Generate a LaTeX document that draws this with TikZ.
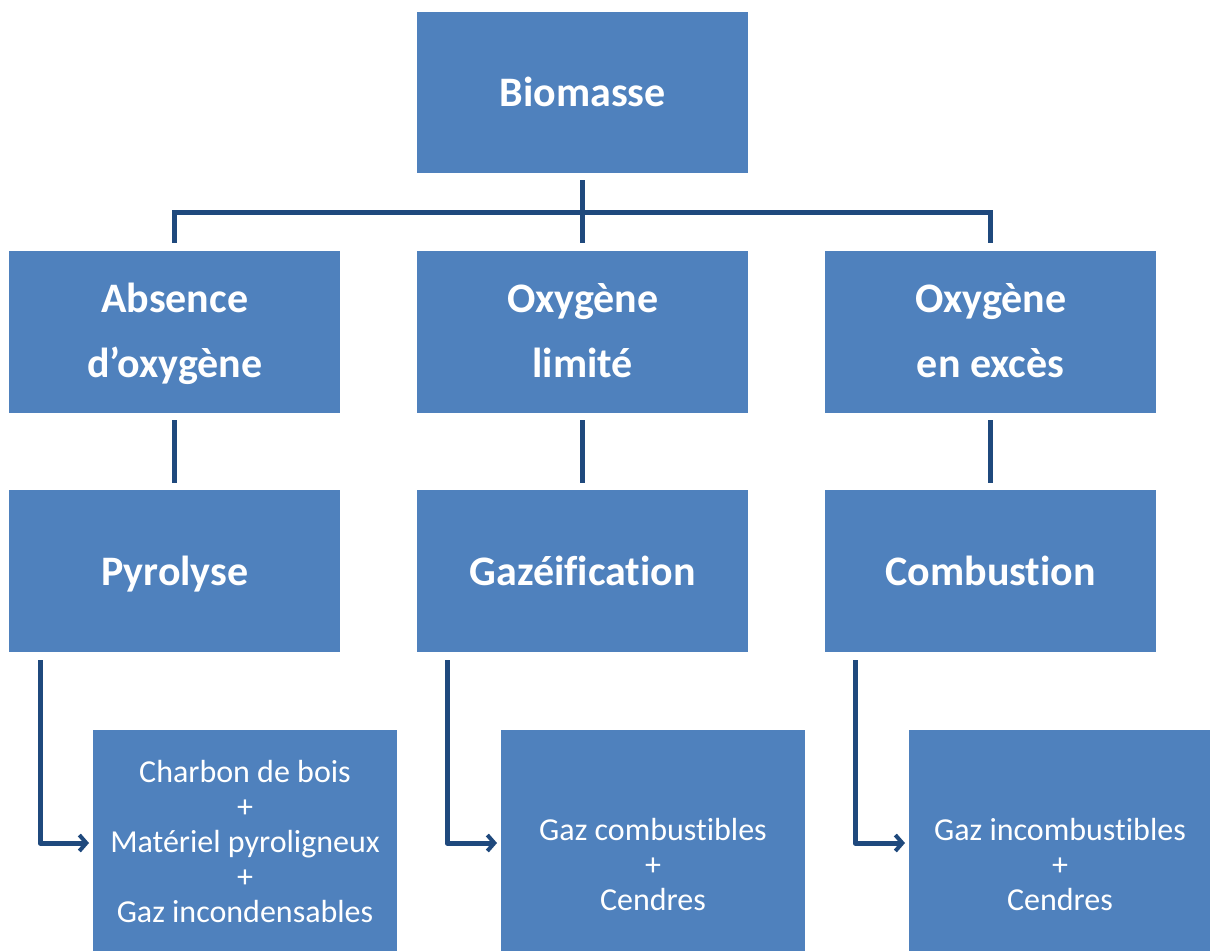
\documentclass[tikz,border=0pt]{standalone}
\usepackage{fontspec}
\setmainfont[Ligatures=NoCommon]{Carlito}
\usetikzlibrary{arrows.meta}
\definecolor{boxblue}{HTML}{4F81BD}
\definecolor{linkblue}{HTML}{1F497D}
\tikzset{
  bluebox/.style={fill=boxblue, draw=none, inner sep=0pt, anchor=north west},
  bigtxt/.style={text=white, font=\fontsize{42}{65}\selectfont\bfseries, align=center, inner sep=0pt},
  smalltxt/.style={text=white, font=\fontsize{32}{35}\selectfont, align=center, inner sep=0pt},
  link/.style={draw=linkblue, line width=5pt},
  arrowlink/.style={link, line join=round, -{Straight Barb[length=7pt,width=16pt,line width=4pt]}},
}
\begin{document}
\begin{tikzpicture}[x=1pt,y=-1pt]
\useasboundingbox (0,0) rectangle (1210,951);
% boxes
\node[bluebox, minimum width=331pt, minimum height=161pt] (bio) at (417,12) {};
\node[bluebox, minimum width=331pt, minimum height=162pt] (abs) at (9,251) {};
\node[bluebox, minimum width=331pt, minimum height=162pt] (lim) at (417,251) {};
\node[bluebox, minimum width=331pt, minimum height=162pt] (exc) at (825,251) {};
\node[bluebox, minimum width=331pt, minimum height=162pt] (pyr) at (9,490) {};
\node[bluebox, minimum width=331pt, minimum height=162pt] (gaz) at (417,490) {};
\node[bluebox, minimum width=331pt, minimum height=162pt] (com) at (825,490) {};
\node[bluebox, minimum width=304pt, minimum height=221pt] (r1) at (93,730) {};
\node[bluebox, minimum width=304pt, minimum height=221pt] (r2) at (501,730) {};
\node[bluebox, minimum width=301pt, minimum height=221pt] (r3) at (909,730) {};
% texts
\node[bigtxt] (tbio) at ([yshift=1pt]bio.center) {Biomasse};
\node[bigtxt] (tabs) at ([yshift=-2pt]abs.center) {Absence\\d’oxygène};
\node[bigtxt] (tlim) at ([yshift=2pt]lim.center) {Oxygène\\limité};
\node[bigtxt] (texc) at ([yshift=2pt]exc.center) {Oxygène\\en excès};
\node[bigtxt] (tpyr) at ([yshift=-3pt]pyr.center) {Pyrolyse};
\node[bigtxt] (tgaz) at (gaz.center) {Gazéification};
\node[bigtxt] (tcom) at (com.center) {Combustion};
\node[smalltxt] (tr1) at (245,841) {Charbon de bois\\+\\Matériel pyroligneux\\+\\Gaz incondensables};
\node[smalltxt] (tr2) at (653,864) {Gaz combustibles\\+\\Cendres};
\node[smalltxt] (tr3) at (1060,864) {Gaz incombustibles\\+\\Cendres};
% tree connectors
\coordinate (hb) at (582,212);
\draw[link] ([yshift=-7pt]bio.south) -- ([yshift=8pt]lim.north);
\draw[link] ([xshift=-2.5pt]abs.north |- hb) -- ([xshift=2.5pt]exc.north |- hb);
\draw[link] (abs.north |- hb) -- ([yshift=8pt]abs.north);
\draw[link] (exc.north |- hb) -- ([yshift=8pt]exc.north);
\draw[link] ([yshift=-7pt]abs.south) -- ([yshift=7pt]pyr.north);
\draw[link] ([yshift=-7pt]lim.south) -- ([yshift=7pt]gaz.north);
\draw[link] ([yshift=-7pt]exc.south) -- ([yshift=7pt]com.north);
% arrows
\coordinate (a1) at (40,843);
\coordinate (a2) at (447,843);
\coordinate (a3) at (855,843);
\draw[arrowlink] ([yshift=-8pt]pyr.south -| a1) -- (a1) -- ([xshift=-4pt]r1.west |- a1);
\draw[arrowlink] ([yshift=-8pt]gaz.south -| a2) -- (a2) -- ([xshift=-4pt]r2.west |- a2);
\draw[arrowlink] ([yshift=-8pt]com.south -| a3) -- (a3) -- ([xshift=-4pt]r3.west |- a3);
\end{tikzpicture}
\end{document}
